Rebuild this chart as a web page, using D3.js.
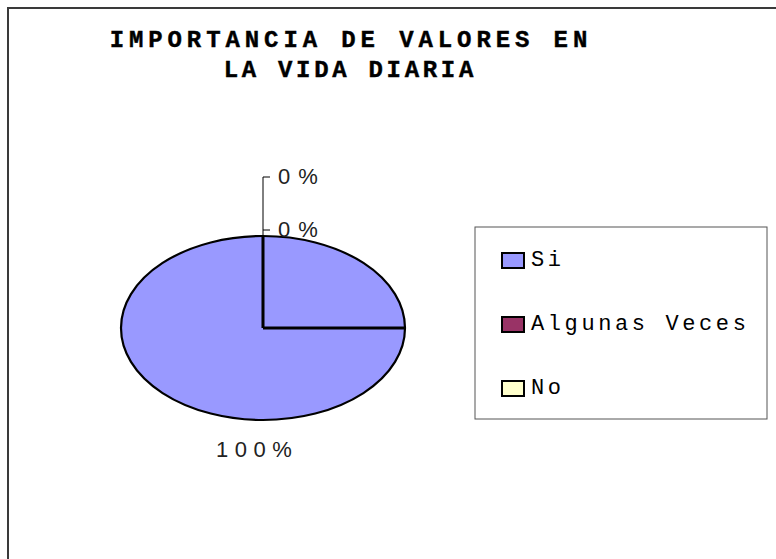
<!DOCTYPE html>
<html>
<head>
<meta charset="utf-8">
<script src="https://cdn.jsdelivr.net/npm/d3@7"></script>
<style>
  html, body { margin: 0; padding: 0; background: #fff; }
  svg { display: block; }
</style>
</head>
<body>
<svg id="chart" width="776" height="559"></svg>
<script>
// Chart data
const categories = ['Si', 'Algunas Veces', 'No'];
const values = [100, 0, 0];
const colors = ['#9999FF', '#993366', '#FFFFCC'];
const titleLines = ['IMPORTANCIA DE VALORES EN', 'LA VIDA DIARIA'];

const svg = d3.select('#chart');

// outer chart border (runs off the right/bottom edge)
svg.append('rect')
    .attr('x', 8).attr('y', 8)
    .attr('width', 820).attr('height', 620)
    .attr('fill', '#fff')
    .attr('stroke', '#3a3a3a')
    .attr('stroke-width', 2);

// Title
const titleSpacing = [4.9, 3.7];
svg.append('g').selectAll('text')
    .data(titleLines)
    .enter().append('text')
    .attr('x', (d, i) => 348.5 + titleSpacing[i] / 2)
    .attr('y', (d, i) => 47 + i * 30)
    .attr('text-anchor', 'middle')
    .attr('font-family', "'Liberation Mono', 'Courier New', monospace")
    .attr('font-weight', 'bold')
    .attr('font-size', '24px')
    .attr('letter-spacing', (d, i) => titleSpacing[i] + 'px')
    .attr('fill', '#000')
    .attr('stroke', '#000')
    .attr('stroke-width', 0.4)
    .text(d => d);

// Pie (ellipse: scaled in y)
const cx = 263, cy = 328, rx = 142, ry = 92;
const total = d3.sum(values);
const pie = d3.pie().sort(null).value(d => d);
const arcs = pie(values);
const arc = d3.arc().innerRadius(0).outerRadius(rx);

const pieG = svg.append('g')
    .attr('transform', `translate(${cx},${cy}) scale(1,${ry / rx})`);

pieG.selectAll('path')
    .data(arcs)
    .enter().append('path')
    .attr('d', arc)
    .attr('fill', (d, i) => colors[i])
    .attr('stroke', '#000')
    .attr('stroke-width', 2.2)
    .attr('vector-effect', 'non-scaling-stroke');

// slice boundary radii (start of slices, plus the one drawn at 90deg)
const radialAngles = [arcs[0].startAngle, Math.PI / 2];
pieG.selectAll('line.radial')
    .data(radialAngles)
    .enter().append('line')
    .attr('class', 'radial')
    .attr('x1', 0).attr('y1', 0)
    .attr('x2', d => rx * Math.sin(d))
    .attr('y2', d => -rx * Math.cos(d))
    .attr('stroke', '#000')
    .attr('stroke-width', 2.8)
    .attr('vector-effect', 'non-scaling-stroke');

// Data labels
const labelFont = "'Liberation Sans', Arial, sans-serif";
const pct = v => Math.round(v / total * 100) + '%';

// 100% label under the pie
svg.append('text')
    .attr('x', 216)
    .attr('y', 457)
    .attr('font-family', labelFont)
    .attr('font-size', '22px')
    .attr('letter-spacing', '6.5px')
    .attr('fill', '#222')
    .text(pct(values[0]));

// zero slices: stacked labels with leader lines from the top of the ellipse
const zeroLabels = arcs.slice(1).map((d, i) => ({ value: d.value, y: 230 - i * 53 }));
const topY = cy - ry;
svg.append('line')
    .attr('x1', cx).attr('y1', topY)
    .attr('x2', cx).attr('y2', d3.min(zeroLabels, d => d.y))
    .attr('stroke', '#000').attr('stroke-width', 1);

const zl = svg.append('g').selectAll('g')
    .data(zeroLabels)
    .enter().append('g');
zl.append('line')
    .attr('x1', cx).attr('x2', cx + 7)
    .attr('y1', d => d.y).attr('y2', d => d.y)
    .attr('stroke', '#000').attr('stroke-width', 1);
zl.append('text')
    .attr('x', 278)
    .attr('y', d => d.y + 7)
    .attr('font-family', labelFont)
    .attr('font-size', '22px')
    .attr('letter-spacing', '8px')
    .attr('fill', '#222')
    .text(d => pct(d.value));

// Legend
const legend = svg.append('g');
legend.append('rect')
    .attr('x', 475).attr('y', 227)
    .attr('width', 292).attr('height', 192)
    .attr('fill', '#fff')
    .attr('stroke', '#555')
    .attr('stroke-width', 1);

const item = legend.selectAll('g.item')
    .data(categories)
    .enter().append('g')
    .attr('class', 'item')
    .attr('transform', (d, i) => `translate(502,${261 + i * 64})`);
item.append('rect')
    .attr('x', 0).attr('y', -8)
    .attr('width', 22).attr('height', 15)
    .attr('fill', (d, i) => colors[i])
    .attr('stroke', '#000')
    .attr('stroke-width', 2);
item.append('text')
    .attr('x', 29)
    .attr('y', 5)
    .attr('font-family', "'Liberation Mono', 'Courier New', monospace")
    .attr('font-size', '22px')
    .attr('letter-spacing', '3.6px')
    .attr('fill', '#000')
    .text(d => d);
</script>
</body>
</html>
